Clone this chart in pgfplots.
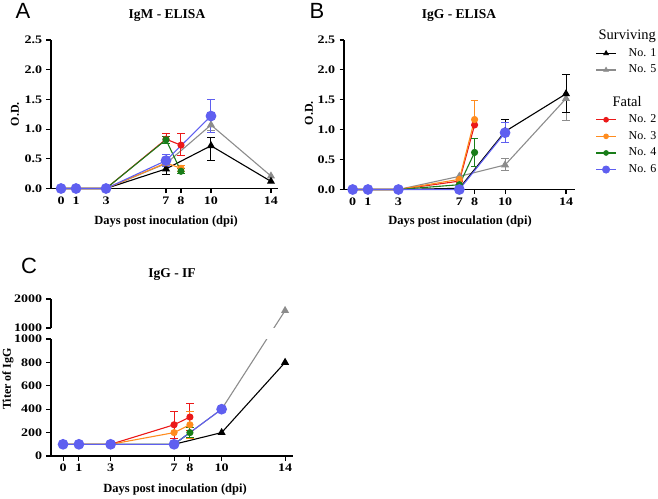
\documentclass[border=0pt]{standalone}
\usepackage{fontspec}
\setmainfont{Liberation Serif}
\newfontfamily\lettersf{Liberation Sans}
\usepackage{pgfplots}
\pgfplotsset{compat=1.18}

\definecolor{cBlack}{RGB}{0,0,0}
\definecolor{cGray}{RGB}{140,140,140}
\definecolor{cRed}{RGB}{235,25,25}
\definecolor{cOrange}{RGB}{255,140,30}
\definecolor{cGreen}{RGB}{25,125,25}
\definecolor{cBlue}{RGB}{95,95,240}

\pgfplotsset{
  gp/.style={
    scale only axis, axis lines=left,
    axis line style={line width=1.1pt,-},
    tick align=outside, major tick length=4.5pt,
    tick style={line width=1.1pt, black},
    xtick={0,1,3,7,8,10,14},
    tick label style={font=\bfseries\fontsize{11.5}{13}\selectfont, xscale=1.22},
    /pgf/number format/assume math mode=true,
    clip=false,
  },
  sBlack/.style={cBlack, line width=1.1pt, mark=triangle*, mark size=3.6pt, mark options={solid}},
  sGray/.style={cGray, line width=1.1pt, mark=triangle*, mark size=3.6pt, mark options={solid}},
  sRed/.style={cRed, line width=1.1pt, mark=*, mark size=3pt},
  sOrange/.style={cOrange, line width=1.1pt, mark=*, mark size=3pt},
  sGreen/.style={cGreen, line width=1.1pt, mark=*, mark size=3pt},
  sBlue/.style={cBlue, line width=1.1pt, mark=*, mark size=4.8pt},
  eb/.style={#1, forget plot, only marks, mark=none,
    error bars/.cd, y dir=both, y explicit,
    error bar style={line width=1pt, #1},
    error mark options={rotate=90, mark size=3.8pt, line width=1pt, #1}},
}

\begin{document}
\begin{tikzpicture}
\useasboundingbox (0,0) rectangle (658pt,-498pt);

% ---------------- Panel A : IgM - ELISA ----------------
\begin{axis}[gp, at={(51pt,-188.5pt)}, anchor=south west,
  width=227pt, height=148.5pt,
  xmin=-0.67, xmax=14.47, ymin=0, ymax=2.5,
  ytick={0,0.5,1,1.5,2,2.5},
  yticklabel style={/pgf/number format/.cd, fixed, fixed zerofill, precision=1}]
% No. 5
\addplot[eb=cGray] coordinates {(10,1.07) +- (0,0.1)};
\addplot[sGray, forget plot] coordinates {(0,0) (1,0) (3,0) (7,0.42) (10,1.07) (14,0.21)};
% No. 1
\addplot[eb=cBlack] coordinates {(7,0.33) += (0,0.08) -= (0,0.1) (10,0.72) += (0,0.14) -= (0,0.25)};
\addplot[sBlack, forget plot] coordinates {(0,0) (1,0) (3,0) (7,0.33) (10,0.72) (14,0.12)};
% No. 2
\addplot[eb=cRed] coordinates {(7,0.83) += (0,0.1) -= (0,0.08) (8,0.73) += (0,0.2) -= (0,0.18)};
\addplot[sRed, forget plot] coordinates {(0,0) (1,0) (3,0) (7,0.83) (8,0.73)};
% No. 3
\addplot[eb=cOrange] coordinates {(8,0.34) +- (0,0.05)};
\addplot[sOrange, forget plot] coordinates {(0,0) (1,0) (3,0) (7,0.43) (8,0.34)};
% No. 4
\addplot[eb=cGreen] coordinates {(7,0.82) +- (0,0.06) (8,0.29) +- (0,0.04)};
\addplot[sGreen, forget plot] coordinates {(0,0) (1,0) (3,0) (7,0.82) (8,0.29)};
% No. 6
\addplot[eb=cBlue] coordinates {(7,0.47) +- (0,0.1) (10,1.22) += (0,0.28) -= (0,0.27)};
\addplot[sBlue, forget plot] coordinates {(0,0) (1,0) (3,0) (7,0.47) (10,1.22)};
\end{axis}

% ---------------- Panel B : IgG - ELISA ----------------
\begin{axis}[gp, at={(344pt,-189.5pt)}, anchor=south west,
  width=231pt, height=149.5pt,
  xmin=-0.57, xmax=14.59, ymin=0, ymax=2.5,
  ytick={0,0.5,1,1.5,2,2.5},
  yticklabel style={/pgf/number format/.cd, fixed, fixed zerofill, precision=1},
  legend style={at={(1.075,1.09)}, anchor=north west, draw=none, fill=none,
    font=\fontsize{12}{14}\selectfont, row sep=0.6pt,
    nodes={text height=9pt, text depth=3pt, inner sep=2pt},
    column sep=10pt},
  legend cell align=left,
  legend image code/.code={
    \draw[#1, mark=none] (0pt,0pt) -- (20pt,0pt);
    \draw[#1, line width=0.8pt] plot coordinates {(10pt,0pt)};}]
% No. 5
\addplot[eb=cGray] coordinates {(10,0.41) += (0,0.11) -= (0,0.1) (14,1.52) += (0,0.4) -= (0,0.37)};
\addplot[sGray, forget plot] coordinates {(0,0) (1,0) (3,0) (7,0.22) (10,0.41) (14,1.52)};
% No. 1
\addplot[eb=cBlack] coordinates {(10,0.97) += (0,0.2) -= (0,0.19) (14,1.6) += (0,0.33) -= (0,0.32)};
\addplot[sBlack, forget plot] coordinates {(0,0) (1,0) (3,0) (7,0.02) (10,0.97) (14,1.6)};
% No. 2
\addplot[sRed, forget plot] coordinates {(0,0) (1,0) (3,0) (7,0.14) (8,1.08)};
% No. 3
\addplot[eb=cOrange] coordinates {(8,1.17) += (0,0.32) -= (0,0.1)};
\addplot[sOrange, forget plot] coordinates {(0,0) (1,0) (3,0) (7,0.17) (8,1.17)};
% No. 4
\addplot[eb=cGreen] coordinates {(8,0.62) +- (0,0.23)};
\addplot[sGreen, forget plot] coordinates {(0,0) (1,0) (3,0) (7,0.08) (8,0.62)};
% No. 6
\addplot[eb=cBlue] coordinates {(10,0.95) +- (0,0.17)};
\addplot[sBlue, forget plot] coordinates {(0,0) (1,0) (3,0) (7,0) (10,0.95)};

\addlegendimage{empty legend}
\addlegendentry{\hspace*{-30pt}\fontsize{14.5}{16}\selectfont Surviving}
\addlegendimage{sBlack, mark size=2.6pt}
\addlegendentry{No. 1}
\addlegendimage{sGray, mark size=2.6pt}
\addlegendentry{No. 5}
\addlegendimage{empty legend}
\addlegendentry{}
\addlegendimage{empty legend}
\addlegendentry{\hspace*{-16pt}\fontsize{14.5}{16}\selectfont Fatal}
\addlegendimage{sRed, mark size=2.4pt}
\addlegendentry{No. 2}
\addlegendimage{sOrange, mark size=2.4pt}
\addlegendentry{No. 3}
\addlegendimage{sGreen, mark size=2.4pt}
\addlegendentry{No. 4}
\addlegendimage{sBlue, mark size=3.6pt}
\addlegendentry{No. 6}
\end{axis}

% ---------------- Panel C : IgG - IF (broken axis) ----------------
\begin{axis}[gp, at={(51pt,-456pt)}, anchor=south west,
  width=242pt, height=157pt,
  xmin=-0.76, xmax=14.5, ymin=0, ymax=2000,
  y coord trafo/.code={\pgfmathparse{(#1>1000) ? (1094+(#1-1000)*0.2479) : (#1)}},
  y coord inv trafo/.code={\pgfmathparse{(#1>1094) ? (1000+(#1-1094)/0.2479) : (#1)}},
  ytick={0,200,400,600,800,1000,1000.01,2000},
  yticklabels={0,200,400,600,800,1000,1000,2000},
  y axis line style={draw=none}]
% No. 5
\addplot[sGray, forget plot] coordinates {(0,100) (1,100) (3,100) (7,100) (10,400) (14,1600)};
% No. 1
\addplot[sBlack, forget plot] coordinates {(0,100) (1,100) (3,100) (7,100) (10,200) (14,800)};
% No. 2
\addplot[eb=cRed] coordinates {(7,267) +- (0,117) (8,333) +- (0,117)};
\addplot[sRed, forget plot] coordinates {(0,100) (1,100) (3,100) (7,267) (8,333)};
% No. 3
\addplot[eb=cOrange] coordinates {(8,267) +- (0,117)};
\addplot[sOrange, forget plot] coordinates {(0,100) (1,100) (3,100) (7,200) (8,267)};
% No. 4
\addplot[eb=cGreen] coordinates {(8,200) +- (0,40)};
\addplot[sGreen, forget plot] coordinates {(0,100) (1,100) (3,100) (7,100) (8,200)};
% No. 6
\addplot[sBlue, forget plot] coordinates {(0,100) (1,100) (3,100) (7,100) (10,400)};
% break band and broken y axis line
\fill[white] (rel axis cs:0.4,0.7475) rectangle (rel axis cs:1.05,0.813);
\draw[line width=1.1pt] (rel axis cs:0,0) -- (rel axis cs:0,0.7452);
\draw[line width=1.1pt] (rel axis cs:0,0.8152) -- (rel axis cs:0,1);
\end{axis}

% ---------------- Texts ----------------
\node[font=\lettersf\fontsize{22}{22}\selectfont] at (23pt,-11pt) {A};
\node[font=\lettersf\fontsize{22}{22}\selectfont] at (317pt,-11pt) {B};
\node[font=\lettersf\fontsize{22}{22}\selectfont] at (29pt,-266pt) {C};

\node[font=\bfseries\fontsize{13.5}{16}\selectfont] at (167pt,-16pt) {IgM - ELISA};
\node[font=\bfseries\fontsize{13.5}{16}\selectfont] at (459pt,-16pt) {IgG - ELISA};
\node[font=\bfseries\fontsize{13.5}{16}\selectfont] at (172pt,-275pt) {IgG - IF};

\node[font=\bfseries\fontsize{12.5}{15}\selectfont] at (166pt,-222pt) {Days post inoculation (dpi)};
\node[font=\bfseries\fontsize{12.5}{15}\selectfont] at (460pt,-222pt) {Days post inoculation (dpi)};
\node[font=\bfseries\fontsize{12.5}{15}\selectfont] at (175pt,-490pt) {Days post inoculation (dpi)};

\node[font=\bfseries\fontsize{12}{14}\selectfont, rotate=90] at (15pt,-114pt) {O.D.};
\node[font=\bfseries\fontsize{12}{14}\selectfont, rotate=90] at (309pt,-113pt) {O.D.};
\node[font=\bfseries\fontsize{12}{14}\selectfont, rotate=90] at (8pt,-379pt) {Titer of IgG};
\end{tikzpicture}
\end{document}
